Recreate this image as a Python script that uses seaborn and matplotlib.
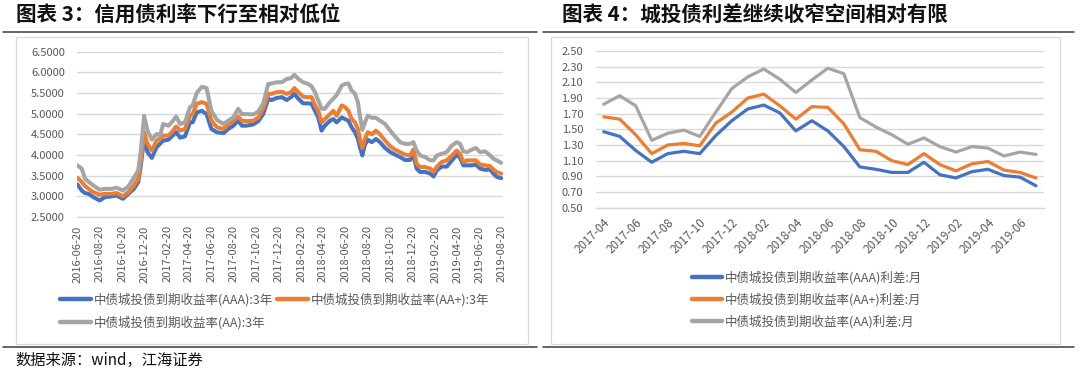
import numpy as np
import pandas as pd
import matplotlib
matplotlib.use("Agg")
import matplotlib.pyplot as plt
import seaborn as sns
from matplotlib.lines import Line2D
from matplotlib.patches import Rectangle

# ---------------- data: left chart (3Y yields) ----------------
left_dates = [
    "2016-06-20", "2016-07-02", "2016-07-11", "2016-07-21", "2016-08-03", "2016-08-20", "2016-09-03",
    "2016-09-21", "2016-10-05", "2016-10-22", "2016-11-06", "2016-11-21", "2016-12-03", "2016-12-10",
    "2016-12-19", "2016-12-28", "2017-01-09", "2017-01-22", "2017-01-31", "2017-02-09", "2017-02-23",
    "2017-03-04", "2017-03-16", "2017-03-27", "2017-04-09", "2017-04-23", "2017-04-30", "2017-05-11",
    "2017-05-25", "2017-06-07",
    "2017-06-20", "2017-07-05", "2017-07-23", "2017-08-05", "2017-08-19", "2017-09-01", "2017-09-11",
    "2017-09-24", "2017-10-12", "2017-10-26", "2017-11-08", "2017-11-22", "2017-12-01", "2017-12-15",
    "2017-12-29", "2018-01-11", "2018-01-23", "2018-02-01", "2018-02-12", "2018-02-25", "2018-03-11",
    "2018-03-20", "2018-03-29", "2018-04-07", "2018-04-16", "2018-04-25", "2018-05-09", "2018-05-18",
    "2018-05-27", "2018-06-10", "2018-06-19",
    "2018-06-28", "2018-07-07", "2018-07-16", "2018-07-24", "2018-07-30", "2018-08-05", "2018-08-12",
    "2018-08-20", "2018-08-31", "2018-09-11", "2018-09-22", "2018-10-06", "2018-10-20", "2018-11-02",
    "2018-11-16", "2018-11-29", "2018-12-13", "2018-12-22", "2018-12-31", "2019-01-09", "2019-01-23",
    "2019-02-06", "2019-02-15", "2019-02-24", "2019-03-09", "2019-03-23", "2019-04-06", "2019-04-19",
    "2019-04-28", "2019-05-07", "2019-05-17", "2019-05-30", "2019-06-10", "2019-06-22", "2019-07-05",
    "2019-07-19", "2019-07-28", "2019-08-06", "2019-08-18",
]
yield_aaa_3y = [
    3.29, 3.14, 3.08, 3.06, 2.98, 2.90, 2.98, 3.00, 3.02, 2.94,
    3.06, 3.18, 3.35, 3.75, 4.43, 4.07, 3.93, 4.19, 4.27, 4.35,
    4.37, 4.45, 4.55, 4.42, 4.45, 4.79, 4.79, 5.03, 5.07, 4.99,
    4.63, 4.55, 4.53, 4.63, 4.71, 4.83, 4.71, 4.71, 4.74, 4.82,
    4.99, 5.36, 5.33, 5.38, 5.40, 5.33, 5.40, 5.48, 5.36, 5.25,
    5.25, 5.24, 5.07, 4.91, 4.59, 4.71, 4.83, 4.87, 4.79, 4.91,
    4.87,
    4.83, 4.67, 4.55, 4.39, 4.17, 3.99, 4.25, 4.37, 4.31, 4.39,
    4.31, 4.17, 4.07, 4.01, 3.95, 3.88, 3.88, 3.99, 3.67, 3.59,
    3.59, 3.55, 3.48, 3.63, 3.72, 3.72, 3.87, 4.01, 3.93, 3.75,
    3.75, 3.75, 3.77, 3.67, 3.64,
    3.65, 3.55, 3.47, 3.44,
]
yield_aap_3y = [
    3.45, 3.35, 3.25, 3.18, 3.10, 3.04, 3.06, 3.06, 3.08, 3.00,
    3.10, 3.26, 3.43, 3.87, 4.55, 4.27, 4.11, 4.35, 4.40, 4.47,
    4.47, 4.55, 4.69, 4.59, 4.63, 4.95, 4.99, 5.24, 5.28, 5.24,
    4.83, 4.67, 4.63, 4.74, 4.83, 4.93, 4.83, 4.82, 4.83, 4.91,
    5.12, 5.48, 5.48, 5.52, 5.53, 5.48, 5.52, 5.62, 5.52, 5.41,
    5.40, 5.40, 5.20, 5.07, 4.79, 4.87, 4.99, 5.07, 4.95, 5.20,
    5.16,
    5.07, 4.87, 4.79, 4.63, 4.35, 4.17, 4.39, 4.55, 4.50, 4.59,
    4.50, 4.35, 4.21, 4.13, 4.07, 4.01, 3.99, 4.13, 3.79, 3.71,
    3.71, 3.67, 3.59, 3.72, 3.83, 3.87, 3.99, 4.11, 4.03, 3.83,
    3.87, 3.87, 3.87, 3.77, 3.75,
    3.73, 3.65, 3.59, 3.55,
]
yield_aa_3y = [
    3.75, 3.67, 3.43, 3.35, 3.26, 3.16, 3.18, 3.18, 3.21, 3.14,
    3.24, 3.45, 3.63, 4.11, 4.95, 4.59, 4.37, 4.51, 4.47, 4.75,
    4.71, 4.79, 4.93, 4.75, 4.79, 5.16, 5.20, 5.50, 5.65, 5.62,
    5.07, 4.85, 4.75, 4.83, 4.91, 5.12, 4.99, 4.99, 4.98, 5.05,
    5.25, 5.72, 5.73, 5.76, 5.76, 5.84, 5.86, 5.94, 5.84, 5.76,
    5.72, 5.66, 5.52, 5.32, 5.12, 5.12, 5.28, 5.36, 5.45, 5.68,
    5.72,
    5.73, 5.56, 5.48, 5.28, 4.91, 4.61, 4.79, 4.95, 4.90, 4.90,
    4.83, 4.75, 4.59, 4.45, 4.31, 4.27, 4.27, 4.31, 4.11, 3.99,
    3.95, 3.87, 3.87, 3.99, 4.03, 4.07, 4.23, 4.31, 4.27, 4.09,
    4.07, 4.13, 4.17, 4.07, 4.09,
    3.99, 3.91, 3.87, 3.81,
]
left_tick_labels = [
    "2016-06-20", "2016-08-20", "2016-10-20", "2016-12-20", "2017-02-20", "2017-04-20", "2017-06-20",
    "2017-08-20", "2017-10-20", "2017-12-20", "2018-02-20", "2018-04-20", "2018-06-20", "2018-08-20",
    "2018-10-20", "2018-12-20", "2019-02-20", "2019-04-20", "2019-06-20", "2019-08-20",
]
left_yticks = [2.5, 3.0, 3.5, 4.0, 4.5, 5.0, 5.5, 6.0, 6.5]
left_names = ["中债城投债到期收益率(AAA):3年", "中债城投债到期收益率(AA+):3年", "中债城投债到期收益率(AA):3年"]

# ---------------- data: right chart (monthly spreads) ----------------
right_months = [
    "2017-04", "2017-05", "2017-06", "2017-07", "2017-08", "2017-09", "2017-10", "2017-11", "2017-12",
    "2018-01", "2018-02", "2018-03", "2018-04", "2018-05", "2018-06", "2018-07", "2018-08", "2018-09",
    "2018-10", "2018-11", "2018-12", "2019-01", "2019-02", "2019-03", "2019-04", "2019-05", "2019-06",
    "2019-07",
]
spread_aaa = [1.47, 1.41, 1.23, 1.08, 1.19, 1.22, 1.19, 1.42, 1.61, 1.76, 1.81, 1.71, 1.48, 1.61,
              1.48, 1.28, 1.02, 0.99, 0.95, 0.95, 1.08, 0.92, 0.88, 0.96, 0.99, 0.91, 0.89, 0.78]
spread_aap = [1.66, 1.63, 1.43, 1.19, 1.30, 1.32, 1.29, 1.58, 1.72, 1.90, 1.95, 1.80, 1.63, 1.79,
              1.78, 1.57, 1.24, 1.22, 1.10, 1.05, 1.19, 1.05, 0.97, 1.06, 1.09, 0.98, 0.95, 0.88]
spread_aa = [1.82, 1.93, 1.80, 1.36, 1.45, 1.49, 1.41, 1.72, 2.02, 2.17, 2.27, 2.14, 1.97, 2.13,
             2.28, 2.21, 1.65, 1.53, 1.43, 1.31, 1.39, 1.28, 1.21, 1.28, 1.26, 1.16, 1.21, 1.18]
right_yticks = [0.5, 0.7, 0.9, 1.1, 1.3, 1.5, 1.7, 1.9, 2.1, 2.3, 2.5]
right_names = ["中债城投债到期收益率(AAA)利差:月", "中债城投债到期收益率(AA+)利差:月", "中债城投债到期收益率(AA)利差:月"]

title_left = "图表 3：信用债利率下行至相对低位"
title_right = "图表 4：城投债利差继续收窄空间相对有限"
source_text = "数据来源：wind，江海证券"

colors = ["#4472C4", "#ED7D31", "#A5A5A5"]
GRID = "#D9D9D9"
TXT = "#595959"

# ---------------- styling ----------------
sns.set_style("white")
plt.rcParams["font.family"] = ["Noto Sans CJK SC", "DejaVu Sans"]
plt.rcParams["axes.unicode_minus"] = False

W, H = 1080, 374
fig = plt.figure(figsize=(W / 100, H / 100), dpi=100)


def fx(x):
    return x / W


def fy(y):
    return 1 - y / H


def add_axes_px(x0, y0, x1, y1):
    return fig.add_axes([fx(x0), fy(y1), (x1 - x0) / W, (y1 - y0) / H])


# ---------------- left chart ----------------
ax1 = add_axes_px(77.3, 51.7, 503, 217)
left_df = pd.DataFrame({
    "date": pd.to_datetime(left_dates),
    left_names[0]: yield_aaa_3y,
    left_names[1]: yield_aap_3y,
    left_names[2]: yield_aa_3y,
})
for name, c in zip(left_names, colors):
    sns.lineplot(data=left_df, x="date", y=name, color=c, lw=2.9, ax=ax1,
                 label=name, legend=False, solid_joinstyle="round", solid_capstyle="round")
ax1.set_xlim(pd.Timestamp("2016-06-20"), pd.Timestamp("2019-08-23"))
ax1.set_ylim(2.5, 6.5)
ax1.set_yticks(left_yticks)
ax1.set_yticklabels([f"{v:.4f}" for v in left_yticks])
ax1.set_xticks(pd.to_datetime(left_tick_labels))
ax1.set_xticklabels(left_tick_labels, rotation=90)
ax1.set_xlabel("")
ax1.set_ylabel("")

# ---------------- right chart ----------------
ax2 = add_axes_px(595.7, 51, 1044, 207.7)
right_df = pd.DataFrame({
    "month": right_months,
    right_names[0]: spread_aaa,
    right_names[1]: spread_aap,
    right_names[2]: spread_aa,
})
for name, c in zip(right_names, colors):
    sns.lineplot(data=right_df, x="month", y=name, color=c, lw=2.3, ax=ax2, sort=False,
                 label=name, legend=False, solid_joinstyle="round", solid_capstyle="round")
n = len(right_months)
ax2.set_xlim(-0.5, n - 0.5)
ax2.set_ylim(0.5, 2.5)
ax2.set_yticks(right_yticks)
ax2.set_yticklabels([f"{v:.2f}" for v in right_yticks])
major = list(range(0, n, 2))
ax2.set_xticks(major)
ax2.set_xticklabels([right_months[i] for i in major], rotation=45, ha="right", va="top",
                    rotation_mode="anchor")
ax2.set_xticks(np.arange(-0.5, n, 2), minor=True)
ax2.set_xlabel("")
ax2.set_ylabel("")

for ax in (ax1, ax2):
    ax.set_facecolor("none")
    ax.yaxis.grid(True, color=GRID, lw=1.0)
    ax.xaxis.grid(False)
    ax.set_axisbelow(True)
    for s in ("top", "right", "left"):
        ax.spines[s].set_visible(False)
    ax.spines["bottom"].set_color(GRID)
    ax.spines["bottom"].set_linewidth(1.0)
    ax.tick_params(axis="y", length=0, pad=9, labelsize=8, labelcolor=TXT)

ax1.tick_params(axis="x", which="major", length=4, width=0.8, color=GRID, pad=2,
                labelsize=8, labelcolor=TXT)
ax2.tick_params(axis="x", which="major", length=0, pad=6, labelsize=8.5, labelcolor=TXT)
ax2.tick_params(axis="x", which="minor", length=4, width=0.8, color=GRID)

# ---------------- legends ----------------
h1, l1 = ax1.get_legend_handles_labels()
order = [0, 2, 1]
leg1 = fig.legend([h1[i] for i in order], [l1[i] for i in order], ncol=2, loc="upper left",
                  bbox_to_anchor=(fx(60), fy(293)), frameon=False, fontsize=9,
                  handlelength=2.5, handletextpad=0.2, columnspacing=0.3, labelspacing=0.7,
                  borderpad=0, borderaxespad=0, labelcolor=TXT)
for lh in leg1.get_lines():
    lh.set_linewidth(3.2)

h2, l2 = ax2.get_legend_handles_labels()
leg2 = fig.legend(h2, l2, ncol=1, loc="upper left",
                  bbox_to_anchor=(fx(692), fy(271)), frameon=False, fontsize=9,
                  handlelength=2.4, handletextpad=0.2, labelspacing=0.65,
                  borderpad=0, borderaxespad=0, labelcolor=TXT)
for lh in leg2.get_lines():
    lh.set_linewidth(3.2)

# ---------------- frames, rules, titles ----------------
fig.add_artist(Rectangle((fx(15.5), fy(344)), (527.6 - 15.5) / W, (344 - 37) / H,
                         transform=fig.transFigure, fill=False, ec=GRID, lw=0.9))
fig.add_artist(Rectangle((fx(550.7), fy(344)), (1060 - 550.7) / W, (344 - 36.5) / H,
                         transform=fig.transFigure, fill=False, ec=GRID, lw=0.9))
fig.add_artist(Line2D([fx(3), fx(537)], [fy(31.5), fy(31.5)], color="#3a3a3a", lw=1.1))
fig.add_artist(Line2D([fx(543), fx(1074)], [fy(31.5), fy(31.5)], color="#3a3a3a", lw=1.1))
fig.add_artist(Line2D([fx(3), fx(537)], [fy(347), fy(347)], color="#3a3a3a", lw=1.1))
fig.add_artist(Line2D([fx(543), fx(1074)], [fy(347), fy(347)], color="#3a3a3a", lw=1.1))

fig.text(fx(16), fy(15), title_left, fontsize=14.8, fontweight="bold", ha="left", va="center",
         color="#111111")
fig.text(fx(562), fy(15), title_right, fontsize=14.8, fontweight="bold", ha="left", va="center",
         color="#111111")
fig.text(fx(15.5), fy(360), source_text, fontsize=11, ha="left", va="center", color="#111111")

fig.savefig("out.png", dpi=100)
